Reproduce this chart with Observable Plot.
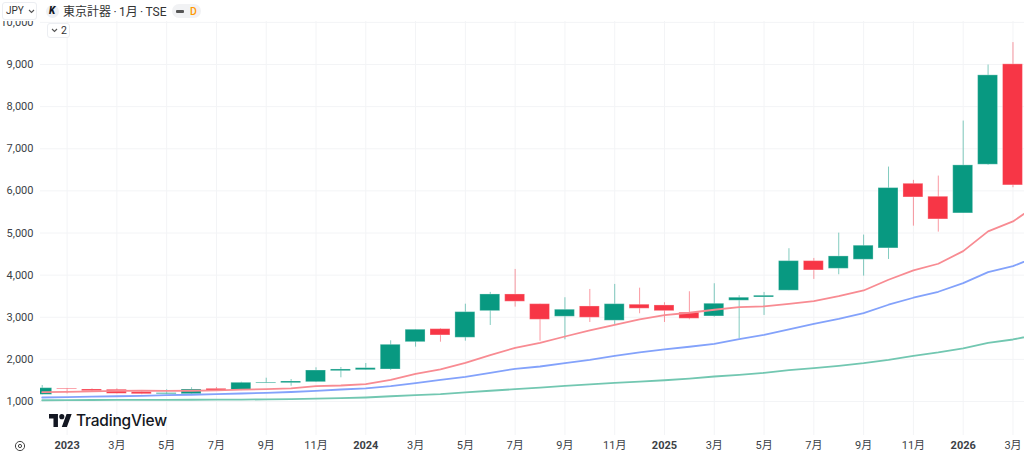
<!DOCTYPE html>
<html>
<head>
<meta charset="utf-8">
<script src="https://cdn.jsdelivr.net/npm/d3@7"></script>
<script src="https://cdn.jsdelivr.net/npm/@observablehq/plot@0.6"></script>
<style>
  body { margin: 0; background: #fff; font-family: Roboto, "Noto Sans CJK JP", sans-serif; color: #131722; overflow: hidden; }
  #wrap { position: relative; width: 1024px; height: 452px; overflow: hidden; }
  #chart svg { display: block; }
  #head { position: absolute; left: 0; top: 0; width: 1024px; height: 21px; background: #fff; }
  .abs { position: absolute; white-space: nowrap; }
  .box { border: 1px solid #eceef2; border-radius: 3px; box-sizing: border-box; background: #fff; }
</style>
</head>
<body>
<div id="wrap">
  <div id="chart"></div>
  <div id="head">
    <div class="abs box" style="left:2px;top:2px;width:35px;height:18px;"></div>
    <div class="abs" style="left:6px;top:5px;font-size:10px;color:#333;">JPY</div>
    <svg class="abs" style="left:28px;top:9px;" width="7" height="5" viewBox="0 0 7 5"><path d="M1 1l2.5 2.5L6 1" fill="none" stroke="#555" stroke-width="1.1"/></svg>
    <div class="abs" style="left:46px;top:5px;width:13px;height:13px;border-radius:50%;background:#eef0f4;"></div>
    <div class="abs" style="left:49px;top:5px;font-size:10px;font-weight:900;font-style:italic;">K</div>
    <div class="abs" style="left:63px;top:2px;font-size:12px;color:#333;word-spacing:-0.6px;">東京計器 · 1月 · TSE</div>
    <div class="abs" style="left:172px;top:4px;width:29px;height:14px;border-radius:7px;background:#f1f2f4;"></div>
    <div class="abs" style="left:176px;top:10px;width:8px;height:2.5px;background:#555;border-radius:1px;"></div>
    <div class="abs" style="left:190px;top:5px;font-size:10.5px;font-weight:500;color:#ff9800;">D</div>
  </div>
  <div class="abs box" style="left:47px;top:23px;width:23px;height:15px;"></div>
  <svg class="abs" style="left:51px;top:28px;" width="7" height="5" viewBox="0 0 7 5"><path d="M1 1l2.5 2.5L6 1" fill="none" stroke="#555" stroke-width="1.1"/></svg>
  <div class="abs" style="left:61px;top:24px;font-size:10.5px;color:#333;">2</div>
  <svg class="abs" style="left:49px;top:414px;" width="23" height="13" viewBox="0 0 36 20">
    <path d="M14 20H7V7H0V0h14v20zM28 20h-8L27.5 0h8L28 20z" fill="#131722"/>
    <circle cx="20" cy="4" r="4" fill="#131722"/>
  </svg>
  <div class="abs" style="left:76px;top:411px;font-family:Inter,sans-serif;font-size:15.5px;font-weight:500;color:#131722;letter-spacing:-0.2px;">TradingView</div>
  <svg class="abs" style="left:14px;top:440px;" width="12" height="12" viewBox="0 0 12 12">
    <circle cx="6" cy="6" r="4.6" fill="none" stroke="#444" stroke-width="1"/>
    <circle cx="6" cy="6" r="1.6" fill="none" stroke="#444" stroke-width="1"/>
  </svg>
</div>
<script>
const months = [
  "2022-12",
  "2023-01","2023-02","2023-03","2023-04","2023-05","2023-06","2023-07","2023-08","2023-09","2023-10","2023-11","2023-12",
  "2024-01","2024-02","2024-03","2024-04","2024-05","2024-06","2024-07","2024-08","2024-09","2024-10","2024-11","2024-12",
  "2025-01","2025-02","2025-03","2025-04","2025-05","2025-06","2025-07","2025-08","2025-09","2025-10","2025-11","2025-12",
  "2026-01","2026-02","2026-03","2026-04"
];
const opens = [1159,1300,1285,1278,1220,1173,1173,1300,1268,1427,1435,1458,1720,1743,1760,2408,2717,2513,3145,3541,3310,3012,3256,2917,3297,3280,3107,3019,3392,3470,3630,4332,4150,4365,4634,6168,5860,5465,6621,9004];
const highs = [1380,1310,1300,1300,1240,1278,1325,1332,1458,1553,1522,1800,1807,1902,2441,2703,2730,3310,3590,4135,3310,3463,3660,3779,3690,3344,3605,3795,3510,3589,4627,4396,4997,4950,6565,6249,6351,7657,8987,9520];
const lows = [1159,1180,1230,1180,1160,1160,1165,1240,1258,1427,1363,1450,1563,1743,1736,2290,2408,2432,2805,3240,2432,2465,2876,2829,3083,2876,2940,3000,2490,3043,3630,3898,4009,3976,4372,5163,5021,5465,6605,6075];
const closes = [1316,1285,1245,1183,1173,1197,1285,1245,1444,1444,1475,1736,1760,1791,2346,2703,2568,3121,3541,3368,2940,3178,2988,3310,3202,3145,2964,3320,3463,3510,4332,4111,4444,4698,6066,5844,5322,6605,8742,6130];
const emaFast = [1221,1230,1240,1250,1255,1250,1255,1265,1280,1295,1310,1365,1380,1411,1515,1657,1760,1919,2100,2275,2394,2543,2686,2821,2947,3050,3107,3178,3240,3256,3320,3382,3500,3636,3890,4111,4270,4570,5038,5275,5680];
const emaMid = [1095,1105,1115,1125,1135,1150,1160,1175,1190,1205,1225,1250,1285,1310,1363,1435,1515,1586,1681,1776,1831,1910,1990,2085,2164,2235,2300,2370,2480,2584,2710,2845,2964,3097,3297,3463,3605,3810,4071,4213,4450];
const emaSlow = [1030,1033,1036,1038,1040,1040,1042,1044,1046,1050,1055,1068,1078,1095,1125,1150,1175,1215,1255,1292,1330,1370,1405,1440,1470,1505,1545,1593,1633,1681,1743,1791,1848,1910,1990,2085,2164,2259,2394,2472,2590];
const priceTicks = [1000,2000,3000,4000,5000,6000,7000,8000,9000,10000];
const yearTicks = ["2023-01","2024-01","2025-01","2026-01"];
const monthTicks = months.filter(m => ["03","05","07","09","11"].includes(m.slice(5)) && m < "2026-04");

const candles = opens.map((o, i) => ({
  month: months[i], open: o, high: highs[i], low: lows[i], close: closes[i],
  dir: closes[i] >= o ? "up" : "down"
}));

const chart = Plot.plot({
  width: 1024,
  height: 452,
  marginLeft: 40,
  marginRight: 0,
  marginTop: 21,
  marginBottom: 17,
  style: { fontFamily: 'Roboto, "Noto Sans CJK JP", sans-serif', fontSize: "11px", background: "#fff", color: "#3c3f46" },
  x: { type: "band", domain: months, range: [26.77, 1052.3], padding: 0.2, label: null },
  y: { type: "linear", domain: [1000, 9000], range: [401, 64], label: null },
  color: { domain: ["up", "down"], range: ["#089981", "#f73646"] },
  marks: [
    Plot.gridY(priceTicks, { stroke: "#f3f4f6", strokeOpacity: 1 }),
    Plot.gridX([...yearTicks, ...monthTicks], { stroke: "#f3f4f6", strokeOpacity: 1 }),
    Plot.axisY({ ticks: priceTicks, tickSize: 0, tickPadding: 7, tickFormat: d3.format(","), label: null }),
    Plot.axisX({ ticks: monthTicks, tickSize: 0, tickPadding: 6, label: null, tickFormat: m => +m.slice(5) + "月" }),
    Plot.axisX({ ticks: yearTicks, tickSize: 0, tickPadding: 6, label: null, fontWeight: 700, tickFormat: m => m.slice(0, 4) }),
    Plot.ruleX(candles, { x: "month", y1: "low", y2: "high", stroke: "dir", strokeOpacity: 0.5, clip: true }),
    Plot.barY(candles, { x: "month", y1: "open", y2: "close", fill: "dir", stroke: "#fff", strokeOpacity: 0.3, clip: true }),
    Plot.line(emaSlow, { x: months, y: emaSlow, stroke: "#72c7b1", strokeWidth: 1.8, clip: true }),
    Plot.line(emaMid, { x: months, y: emaMid, stroke: "#83a2fb", strokeWidth: 1.8, clip: true }),
    Plot.line(emaFast, { x: months, y: emaFast, stroke: "#f88b92", strokeWidth: 1.8, clip: true })
  ]
});
document.getElementById("chart").append(chart);
</script>
</body>
</html>
